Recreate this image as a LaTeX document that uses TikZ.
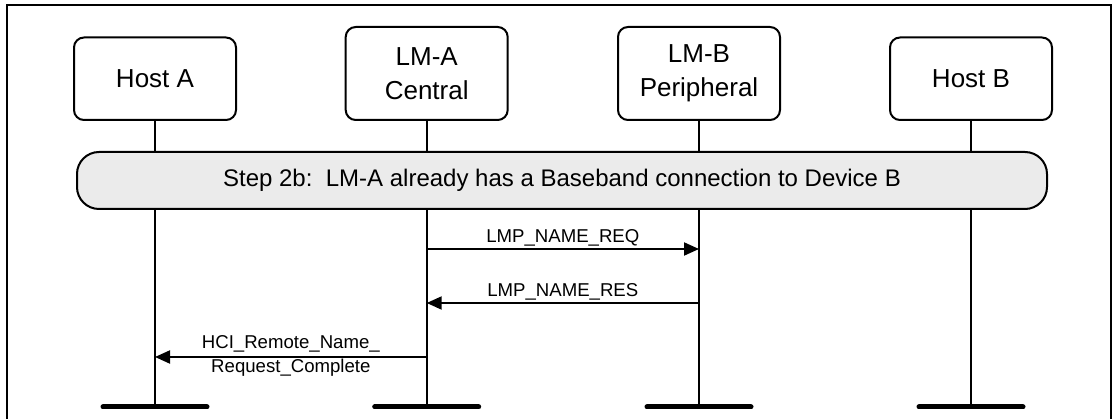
\documentclass[tikz,border=0pt]{standalone}
\usepackage{fontspec}
\setmainfont{Liberation Sans}
\usetikzlibrary{arrows.meta}
\definecolor{bannergray}{HTML}{EBEBEB}
\begin{document}
\begin{tikzpicture}[x=1pt,y=-1pt,
  entity/.style={draw,line width=2pt,rounded corners=10pt,minimum width=162pt,
    align=center,inner sep=0pt,font=\fontsize{26}{34}\selectfont},
  life/.style={line width=2pt},
  endbar/.style={line width=5pt,line cap=round},
  msg/.style={line width=2pt,-{Triangle[length=15pt,width=13pt]}},
  lbl/.style={font=\fontsize{18.6}{24}\selectfont,inner sep=0pt,align=center},
  banner/.style={draw,line width=2pt,fill=bannergray,rounded corners=22pt,
    minimum width=970pt,minimum height=57pt,inner sep=0pt,font=\fontsize{24}{28}\selectfont},
  frame/.style={line width=2pt}]
\useasboundingbox (0,0) rectangle (1112,419);
\draw[frame] (6.5,419) -- (6.5,5) -- (1110.5,5) -- (1110.5,419);

% entities
\node[entity,minimum height=82.5pt] (ha) at (155,78.75) {Host A};
\node[entity,minimum height=93pt] (la) at (426.7,73.5) {LM-A\\Central};
\node[entity,minimum height=93pt] (lb) at (699,73.5) {LM-B\\Peripheral};
\node[entity,minimum height=82.5pt] (hb) at (971,78.75) {Host B};

% lifeline ends
\coordinate (ea) at (155,407);
\coordinate (eb) at (426.7,407);
\coordinate (ec) at (699,407);
\coordinate (ed) at (971,407);

\draw[life] (ha.south) -- (ea);
\draw[life] (la.south) -- (eb);
\draw[life] (lb.south) -- (ec);
\draw[life] (hb.south) -- (ed);

\draw[endbar] ([xshift=-52pt]ea) -- ([xshift=52pt]ea);
\draw[endbar] ([xshift=-52pt]eb) -- ([xshift=52pt]eb);
\draw[endbar] ([xshift=-52pt]ec) -- ([xshift=52pt]ec);
\draw[endbar] ([xshift=-52pt]ed) -- ([xshift=52pt]ed);

% banner
\node[banner] (step) at (562,180.5) {Step 2b:\ \ LM-A already has a Baseband connection to Device B};

% message points
\coordinate (req1) at (426.7,249);
\coordinate (req2) at (699,249);
\coordinate (res1) at (699,303);
\coordinate (res2) at (426.7,303);
\coordinate (hci1) at (426.7,357);
\coordinate (hci2) at (155,357);

\draw[msg] (req1) -- node[lbl,anchor=base,yshift=6.5pt] {LMP\_NAME\_REQ} (req2);
\draw[msg] (res1) -- node[lbl,anchor=base,yshift=6.5pt] {LMP\_NAME\_RES} (res2);
\draw[msg] (hci1) -- node[lbl,yshift=1.5pt] {HCI\_Remote\_Name\_\\Request\_Complete} (hci2);
\end{tikzpicture}
\end{document}
